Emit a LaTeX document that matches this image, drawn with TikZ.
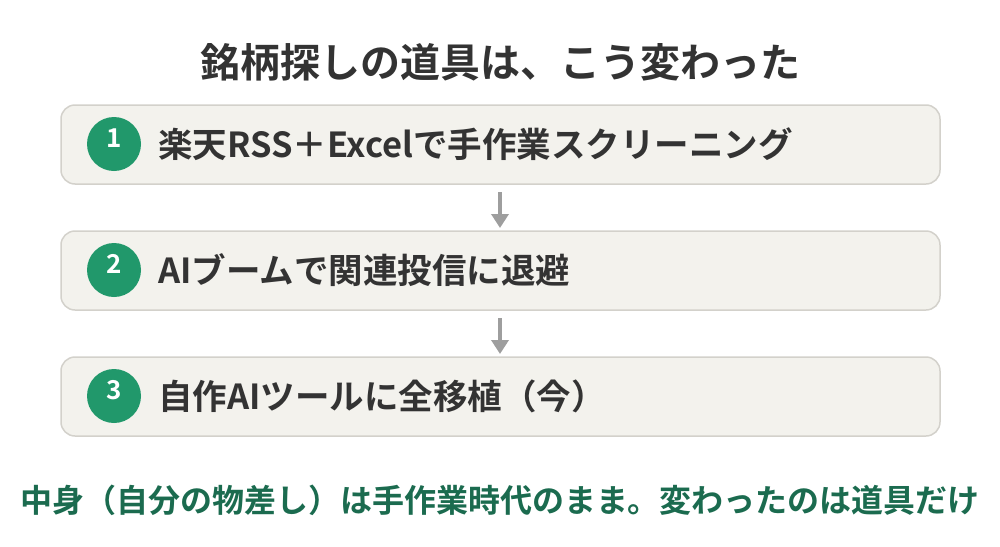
\documentclass[tikz,border=0pt]{standalone}
\usepackage{fontspec}
\setmainfont{Noto Sans CJK JP}[BoldFont={Noto Sans CJK JP Bold}]
\usetikzlibrary{arrows.meta}
\definecolor{boxfill}{HTML}{F3F2ED}
\definecolor{boxline}{HTML}{D3D1CB}
\definecolor{numgreen}{HTML}{21986B}
\definecolor{txtdark}{HTML}{333333}
\definecolor{notegreen}{HTML}{1B6B4F}
\definecolor{arrowgray}{HTML}{9E9E9E}
\tikzset{
  stepbox/.style={draw=boxline, line width=1.5pt, fill=boxfill, rounded corners=14pt, minimum width=879pt, minimum height=79pt, inner sep=0pt},
  numdot/.style={circle, fill=numgreen, minimum size=54pt, inner sep=0pt},
  numtext/.style={text=white, font=\fontsize{26}{28}\selectfont\bfseries, inner sep=0pt},
  steptext/.style={anchor=west, text=txtdark, font=\fontsize{34.5}{38}\selectfont\bfseries, inner sep=0pt},
  flowarrow/.style={draw=arrowgray, line width=3.5pt, -{Triangle[length=14pt,width=17pt]}}
}
\begin{document}
\begin{tikzpicture}[x=1pt,y=-1pt]
\useasboundingbox (0,0) rectangle (1000,546);
\node[text=txtdark, font=\fontsize{40}{44}\selectfont\bfseries, inner sep=0pt] (title) at (500,62) {銘柄探しの道具は、こう変わった};
\node[stepbox] (b1) at (500.5,144.5) {};
\node[stepbox] (b2) at (500.5,270.5) {};
\node[stepbox] (b3) at (500.5,396.5) {};
\node[numdot] (n1) at (114,144) {};
\node[numdot] (n2) at (114,270) {};
\node[numdot] (n3) at (114,396) {};
\node[numtext] (l1) at (114,138) {1};
\node[numtext] (l2) at (114,264) {2};
\node[numtext] (l3) at (114,390) {3};
\node[steptext] (t1) at (158,144) {楽天RSS＋Excelで手作業スクリーニング};
\node[steptext] (t2) at (158,270) {AIブームで関連投信に退避};
\node[steptext] (t3) at (158,396) {自作AIツールに全移植（今）};
\coordinate (a1s) at (500,192);
\coordinate (a1e) at (500,228);
\coordinate (a2s) at (500,318);
\coordinate (a2e) at (500,354);
\draw[flowarrow] (a1s) -- (a1e);
\draw[flowarrow] (a2s) -- (a2e);
\node[text=notegreen, font=\fontsize{32}{36}\selectfont\bfseries, inner sep=0pt] (note) at (500,500) {中身（自分の物差し）は手作業時代のまま。変わったのは道具だけ};
\end{tikzpicture}
\end{document}
